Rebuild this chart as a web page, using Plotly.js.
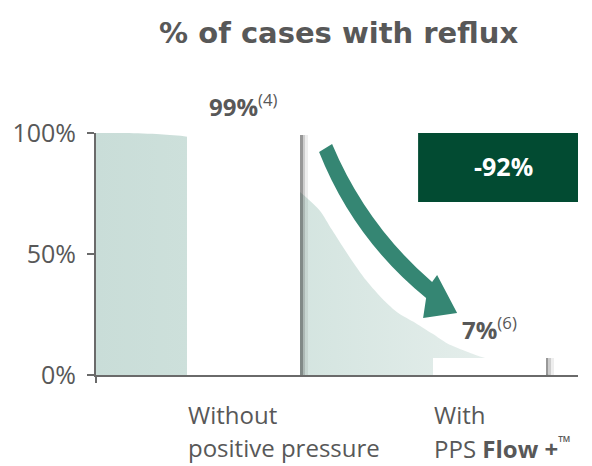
<!DOCTYPE html>
<html><head><meta charset="utf-8">
<script src="https://cdn.plot.ly/plotly-3.0.1.min.js"></script>
<style>html,body{margin:0;padding:0;background:#fff}#chart{width:592px;height:466px}</style>
</head><body><div id="chart"></div>
<script>
// ---- data ----
const categories = ["Without positive pressure", "With PPS Flow +™"];
const categoryLines = [["Without", "positive pressure"], ["With", "PPS <b>Flow +</b><sup>™</sup>"]];
const refluxPct = [99, 7];
const refs = ["(4)", "(6)"];
const reductionLabel = "-92%";
const yTicks = [0, 50, 100];
const yTickText = ["0%", "50%", "100%"];
// background decreasing curve
const curveX = [-0.601, -0.48, -0.34, -0.23, -0.09, 0.03, 0.15, 0.23, 0.31, 0.36, 0.43, 0.50, 0.57, 0.63, 0.70, 0.77, 0.83, 0.90, 0.97, 1.03, 1.09, 1.20, 1.25];
const curveY = [100, 100, 99.5, 98.5, 95, 90, 82, 75.6, 68, 60, 49, 39, 31, 25.6, 21.5, 17, 13, 10, 7.4, 6, 5, 1.5, 0];

// pixel helpers for decorations
const px2x = px => (px - 243.5) / 245.5;
const py2y = py => (375 - py) / 2.42;
const P = (a, b) => px2x(a).toFixed(4) + ',' + py2y(b).toFixed(3);

const font = "'Open Sans', Lato, sans-serif";
const txt = "#585858";
const W = 0.46;
const XR = [-0.601, 1.362];

const shadowLayers = [[0.034, 'rgba(40,40,40,0.08)'], [0.022, 'rgba(40,40,40,0.16)'], [0.011, 'rgba(40,40,40,0.32)']];
const traces = [
  {type:'scatter', x: curveX, y: curveY, mode:'lines', line:{width:0, shape:'spline', smoothing:0.8},
   fill:'tozeroy', fillcolor:'#d4e4e0',
   fillgradient:{type:'horizontal', colorscale:[[0,'#c9ddd8'],[0.35,'#d0e2dd'],[1,'#eaf1ef']]},
   hoverinfo:'skip', showlegend:false}
];
shadowLayers.forEach(([s, c]) => traces.push({type:'bar', x:[0,1], y: refluxPct, width: W, offset: -W/2 + s,
  xaxis:'x2', yaxis:'y2', marker:{color: c, line:{width:0}}, hoverinfo:'skip', showlegend:false}));
traces.push({type:'bar', x:[0,1], y: refluxPct, width: W, offset: -W/2, xaxis:'x2', yaxis:'y2',
  marker:{color:'#ffffff', line:{width:0}}, hoverinfo:'skip', showlegend:false, name:'reflux'});

const annotations = [];
refluxPct.forEach((v, i) => {
  annotations.push({x: i, y: v, xref:'x', yref:'y', yanchor:'bottom', yshift: 10, showarrow:false,
    text: '<b>' + v + '%</b><sup>' + refs[i] + '</sup>',
    font:{family: font, size: 24, color: txt}});
  categoryLines[i].forEach((line, j) => {
    annotations.push({x: i - W/2, y: 0, xref:'x', yref:'y', xanchor:'left', yanchor:'middle', align:'left',
      yshift: -39 - 33*j, xshift: -1, showarrow:false, text: line,
      font:{family: font, size: 24, color: txt}});
  });
});
annotations.push({x: px2x((418+589)/2), y: py2y(166), xref:'x', yref:'y', showarrow:false, text:'<b>' + reductionLabel + '</b>',
  font:{family: font, size: 25, color:'#ffffff'}});

const arrowPath = 'M' + P(319,152) + ' L' + P(332,144) + ' Q' + P(366,225) + ' ' + P(432,282) +
  ' L' + P(437,275) + ' L' + P(457,313) + ' L' + P(423,318) + ' L' + P(426,298) +
  ' Q' + P(353.5,239) + ' ' + P(319,152) + ' Z';

const shapes = [
  {type:'rect', xref:'x', yref:'y', x0: px2x(418), x1: px2x(589), y0: py2y(202), y1: py2y(129),
   fillcolor:'#024b32', line:{width:0}, layer:'above'},
  {type:'path', xref:'x', yref:'y', path: arrowPath, fillcolor:'#358673', line:{width:0}, layer:'above'}
];

const layout = {
  width: 592, height: 466,
  margin:{l:96, r:14, t:133, b:91, pad:0},
  paper_bgcolor:'#ffffff', plot_bgcolor:'rgba(0,0,0,0)',
  barmode:'overlay', bargap:0,
  title:{text:'% of cases with reflux', x: 0.572, xanchor:'center', y: 0.93, yanchor:'middle',
    font:{family: "'DejaVu Sans', sans-serif", size: 29, weight: 600, color:'#585858'}},
  xaxis:{range: XR, showgrid:false, zeroline:false, showline:true, linecolor:'#6a6a6a', linewidth:2,
    tickvals:[XR[0]], ticks:'outside', ticklen:6, tickcolor:'#6a6a6a', tickwidth:2, showticklabels:false, fixedrange:true},
  yaxis:{range:[0, 100], tickvals: yTicks, ticktext: yTickText, showgrid:false, zeroline:false, showline:true,
    linecolor:'#6a6a6a', linewidth:2, ticks:'outside', ticklen:7, tickcolor:'#6a6a6a', tickwidth:2,
    tickfont:{family: font, size: 25, color: txt}, ticklabelstandoff: 6, fixedrange:true},
  xaxis2:{range: XR, overlaying:'x', visible:false, fixedrange:true},
  yaxis2:{range:[0, 100], overlaying:'y', visible:false, fixedrange:true},
  annotations, shapes, showlegend:false
};

Plotly.newPlot('chart', traces, layout, {staticPlot:true, displayModeBar:false});
</script></body></html>
